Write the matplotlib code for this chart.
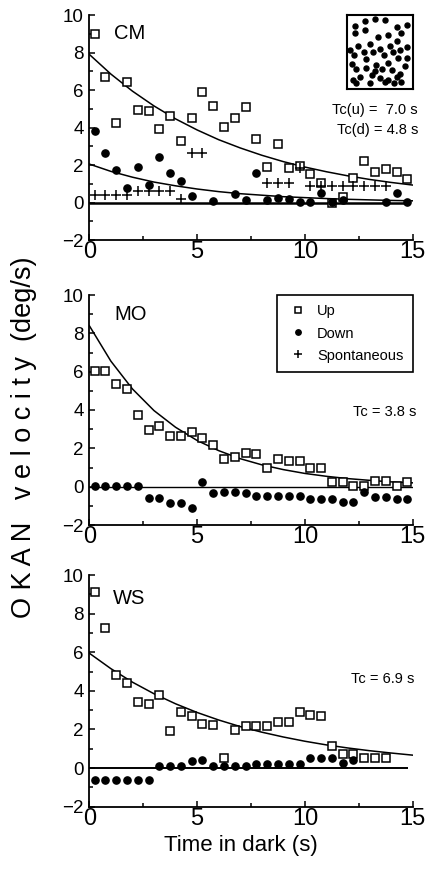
import numpy as np
import matplotlib
matplotlib.use("Agg")
from matplotlib import pyplot as plt
from matplotlib.ticker import FixedLocator

plt.rcParams['font.family'] = ['Liberation Sans', 'DejaVu Sans']

# sample times (s), every 0.5 s
t_half = [0.25, 0.75, 1.25, 1.75, 2.25, 2.75, 3.25, 3.75, 4.25, 4.75,
          5.25, 5.75, 6.25, 6.75, 7.25, 7.75, 8.25, 8.75, 9.25, 9.75,
          10.25, 10.75, 11.25, 11.75, 12.25, 12.75, 13.25, 13.75, 14.25, 14.75]
t_fit = [0, 1, 2, 3, 4, 5, 6, 7, 8, 9, 10, 11, 12, 13, 14, 15]

# --- CM ---
cm_up = [9.0, 6.7, 4.25, 6.45, 4.95, 4.9, 3.9, 4.6, 3.3, 4.5,
         5.9, 5.15, 4.05, 4.5, 5.1, 3.4, 1.9, 3.1, 1.85, 1.95,
         1.5, 1.05, 0.0, 0.3, 1.3, 2.2, 1.65, 1.8, 1.65, 1.25]
cm_down_t = [0.25, 0.75, 1.25, 1.75, 2.25, 2.75, 3.25, 3.75, 4.25, 4.75,
             5.75, 6.75, 7.25, 7.75, 8.25, 8.75, 9.25, 9.75, 10.25, 10.75,
             11.25, 11.75, 13.75, 14.25, 14.75]
cm_down = [3.8, 2.65, 1.75, 0.8, 1.9, 0.95, 2.45, 1.55, 1.15, 0.35,
           0.07, 0.43, 0.12, 1.6, 0.12, 0.25, 0.2, 0.04, 0.04, 0.52,
           0.04, 0.12, 0.04, 0.52, 0.04]
cm_spont_t = [0.25, 0.75, 1.25, 1.75, 2.25, 2.75, 3.25, 3.75, 4.25, 4.75,
              5.25, 8.25, 8.75, 9.25, 9.75, 10.25, 10.75, 11.25, 11.75, 12.25,
              12.75, 13.25, 13.75]
cm_spont = [0.4, 0.4, 0.4, 0.4, 0.62, 0.62, 0.62, 0.62, 0.18, 2.65,
            2.65, 1.05, 1.05, 1.05, 1.85, 0.9, 0.9, 0.9, 0.9, 0.9,
            0.9, 0.9, 0.9]
cm_fit_up = [7.9, 6.85, 5.94, 5.15, 4.46, 3.87, 3.35, 2.91, 2.52, 2.18,
             1.89, 1.64, 1.42, 1.23, 1.07, 0.93]
cm_fit_down = [2.05, 1.66, 1.35, 1.09, 0.89, 0.72, 0.58, 0.47, 0.39, 0.31,
               0.26, 0.21, 0.17, 0.14, 0.11, 0.09]

# --- MO ---
mo_up = [6.05, 6.05, 5.36, 5.08, 3.74, 2.96, 3.18, 2.64, 2.64, 2.87,
         2.52, 2.17, 1.44, 1.57, 1.77, 1.70, 0.96, 1.44, 1.36, 1.36,
         0.96, 0.96, 0.26, 0.26, 0.05, 0.05, 0.30, 0.30, 0.05, 0.26]
mo_down = [0.03, 0.03, 0.03, 0.03, 0.03, -0.6, -0.6, -0.83, -0.83, -1.1,
           0.23, -0.31, -0.3, -0.3, -0.31, -0.47, -0.47, -0.47, -0.47, -0.47,
           -0.64, -0.64, -0.64, -0.78, -0.78, -0.3, -0.52, -0.52, -0.66, -0.66]
mo_fit_up = [8.4, 6.55, 5.1, 3.97, 3.1, 2.41, 1.88, 1.46, 1.14, 0.89,
             0.69, 0.54, 0.42, 0.33, 0.25, 0.2]

# --- WS ---
ws_up = [9.1, 7.23, 4.83, 4.42, 3.41, 3.33, 3.76, 1.91, 2.93, 2.72,
         2.29, 2.24, 0.52, 1.98, 2.17, 2.17, 2.17, 2.37, 2.37, 2.93,
         2.77, 2.69, 1.13, 0.73, 0.73, 0.5, 0.5, 0.5]
ws_down = [-0.6, -0.6, -0.6, -0.6, -0.6, -0.6, 0.09, 0.09, 0.09, 0.38,
           0.43, 0.09, 0.09, 0.09, 0.09, 0.2, 0.2, 0.2, 0.2, 0.2,
           0.52, 0.52, 0.52, 0.24, 0.43]
ws_fit_up = [5.95, 5.15, 4.45, 3.85, 3.33, 2.88, 2.49, 2.15, 1.86, 1.61,
             1.39, 1.2, 1.04, 0.9, 0.78, 0.67]

# random-dot stimulus in the inset (fractions of the box)
dots_x = [0.13, 0.28, 0.43, 0.58, 0.76, 0.92, 0.13, 0.28, 0.48, 0.63, 0.76, 0.83,
          0.18, 0.35, 0.51, 0.66, 0.81, 0.05, 0.11, 0.26, 0.40, 0.56, 0.70, 0.91,
          0.08, 0.30, 0.45, 0.63, 0.78, 0.91, 0.15, 0.30, 0.43, 0.53, 0.68, 0.88,
          0.10, 0.20, 0.38, 0.51, 0.63, 0.76, 0.81, 0.15, 0.35, 0.58, 0.71, 0.83]
dots_y = [0.85, 0.92, 0.95, 0.93, 0.84, 0.87, 0.75, 0.79, 0.70, 0.73, 0.65, 0.75,
          0.58, 0.60, 0.54, 0.58, 0.52, 0.52, 0.45, 0.49, 0.50, 0.45, 0.50, 0.57,
          0.33, 0.40, 0.32, 0.35, 0.42, 0.41, 0.26, 0.28, 0.24, 0.27, 0.25, 0.30,
          0.11, 0.16, 0.18, 0.14, 0.11, 0.16, 0.20, 0.07, 0.08, 0.09, 0.07, 0.09]

fig = plt.figure(figsize=(4.26, 8.82), dpi=100)
L, W = 89.3 / 426, 323.4 / 426
ax1 = fig.add_axes([L, 1 - 240 / 882, W, 225 / 882])
ax2 = fig.add_axes([L, 1 - 525 / 882, W, 230 / 882])
ax3 = fig.add_axes([L, 1 - 806.7 / 882, W, 231.7 / 882])

up_kw = dict(ls='none', marker='s', ms=5.4, mfc='white', mec='black', mew=1.1)
down_kw = dict(ls='none', marker='o', ms=5.2, mfc='black', mec='black')
spont_kw = dict(ls='none', marker='+', ms=7, mec='black', mew=1.1)

for ax in (ax1, ax2, ax3):
    ax.set_xlim(0, 15)
    ax.set_ylim(-2, 10)
    for s in ('top', 'right'):
        ax.spines[s].set_visible(False)
    for s in ('left', 'bottom'):
        ax.spines[s].set_linewidth(1.3)
    ax.xaxis.set_major_locator(FixedLocator([0, 5, 10, 15]))
    ax.xaxis.set_minor_locator(FixedLocator([2.5, 7.5, 12.5]))
    ax.yaxis.set_major_locator(FixedLocator([-2, 0, 2, 4, 6, 8, 10]))
    ax.yaxis.set_minor_locator(FixedLocator([-1, 1, 3, 5, 7, 9]))
    ax.tick_params(which='major', direction='in', length=4, width=1.1)
    ax.tick_params(which='minor', direction='in', length=3, width=1.1)
    ax.tick_params(axis='x', labelsize=17, pad=1)
    ax.tick_params(axis='y', labelsize=13.5, pad=4)
    for sp in ax.spines.values():
        sp.set_clip_on(False)

# CM
ax1.hlines(0, 0, 14.8, color='black', lw=1.8)
ax1.plot(t_fit, cm_fit_up, color='black', lw=1.1)
ax1.plot(t_fit, cm_fit_down, color='black', lw=1.1)
ax1.plot(t_half, cm_up, **up_kw)
ax1.plot(cm_down_t, cm_down, **down_kw)
ax1.plot(cm_spont_t, cm_spont, **spont_kw)
ax1.text(1.15, 9.0, 'CM', fontsize=14.5, va='center', ha='left')
ax1.text(15.25, 4.93, 'Tc(u) =  7.0 s', fontsize=10.5, ha='right', va='center', clip_on=False)
ax1.text(15.25, 3.86, 'Tc(d) = 4.8 s', fontsize=10.5, ha='right', va='center', clip_on=False)

# random-dot pattern inset
ins = ax1.inset_axes([11.93, 6.08, 3.07, 3.92], transform=ax1.transData)
ins.plot(dots_x, dots_y, ls='none', marker='o', ms=3.6, color='black')
ins.set_xlim(0, 1)
ins.set_ylim(0, 1)
ins.set_xticks([])
ins.set_yticks([])
for sp in ins.spines.values():
    sp.set_linewidth(1.5)

# MO
ax2.hlines(0, 0, 15, color='black', lw=1.0)
ax2.plot(t_fit, mo_fit_up, color='black', lw=1.1)
h_up, = ax2.plot(t_half, mo_up, label='Up', **up_kw)
h_down, = ax2.plot(t_half, mo_down, label='Down', **down_kw)
h_sp, = ax2.plot([], [], label='Spontaneous', **spont_kw)
ax2.text(1.15, 8.96, 'MO', fontsize=14.5, va='center', ha='left')
ax2.text(15.18, 3.91, 'Tc = 3.8 s', fontsize=10.5, ha='right', va='center', clip_on=False)
leg = ax2.legend(handles=[h_up, h_down, h_sp], loc='upper right',
                 bbox_to_anchor=(1.0, 1.0), borderaxespad=0, fontsize=10.5,
                 fancybox=False, framealpha=1, edgecolor='black',
                 handlelength=1.6, handletextpad=0.5, labelspacing=0.55,
                 borderpad=0.65, markerscale=0.75)
leg.get_frame().set_linewidth(1.2)

# WS
ax3.hlines(0, 0, 14.8, color='black', lw=1.4)
ax3.plot(t_fit, ws_fit_up, color='black', lw=1.1)
ax3.plot(t_half[:len(ws_up)], ws_up, **up_kw)
ax3.plot(t_half[:len(ws_down)], ws_down, **down_kw)
ax3.text(1.1, 8.79, 'WS', fontsize=14.5, va='center', ha='left')
ax3.text(15.1, 4.63, 'Tc = 6.9 s', fontsize=10.5, ha='right', va='center', clip_on=False)

fig.text(241 / 426, 1 - 845 / 882, 'Time in dark (s)', fontsize=16, ha='center', va='center')
fig.text(24 / 426, 1 - 437 / 882, 'O K A N   v e l o c i t y  (deg/s)', fontsize=19.5,
         rotation=90, ha='center', va='center')

fig.savefig('out.png', dpi=100)
